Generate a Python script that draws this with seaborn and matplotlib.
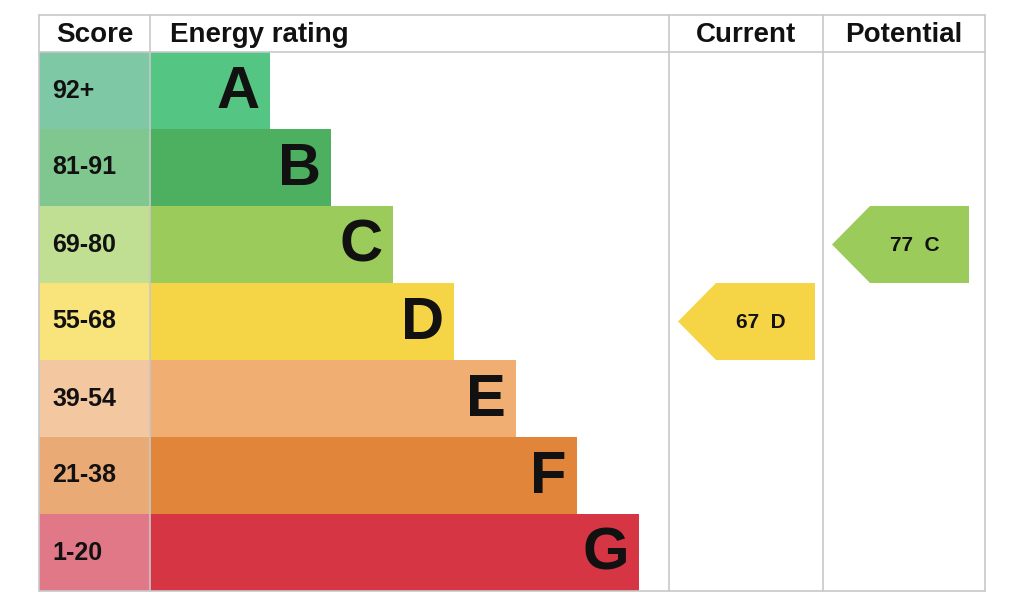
import matplotlib
matplotlib.use("Agg")
import matplotlib.pyplot as plt
import seaborn as sns
from matplotlib.patches import Polygon

sns.set_theme(style="white")
plt.rcParams['font.family'] = ['Liberation Sans', 'DejaVu Sans']

bands = ["A", "B", "C", "D", "E", "F", "G"]
scores = ["92+", "81-91", "69-80", "55-68", "39-54", "21-38", "1-20"]
bar_len = [120, 181, 243, 304, 366, 427, 489]
bar_col = ["#55c583", "#4cb060", "#9bcb5a", "#f5d546", "#f0ae72", "#e0853a", "#d63544"]
score_col = ["#7fc8a6", "#7fc68f", "#c0df92", "#f8e47a", "#f3c7a0", "#eaaa76", "#e07888"]
current = (67, "D")
potential = (77, "C")

fig = plt.figure(figsize=(10.24, 6.03), dpi=100)
ax = fig.add_axes([0, 0, 1, 1])
ax.set_xlim(0, 1024)
ax.set_ylim(603, 0)
ax.axis("off")

top, head, rh = 15, 52, 77
x0, xs, xc, xp, x1 = 39, 150, 669, 823, 985

for i, b in enumerate(bands):
    y = head + i * rh
    ax.barh(y + rh / 2, xs - x0, left=x0, height=rh, color=score_col[i], edgecolor="none")
    ax.barh(y + rh / 2, bar_len[i], left=xs, height=rh, color=bar_col[i], edgecolor="none")
    ax.text(x0 + 13, y + rh / 2, scores[i], fontsize=18, fontweight="bold", va="center", ha="left", color="#111")
    ax.text(xs + bar_len[i] - 10, y + rh / 2 + 2, b, fontsize=43, fontweight="bold", va="center", ha="right", color="#111")

def arrow(val, band, xl, xr):
    i = bands.index(band)
    y = head + i * rh
    poly = Polygon([(xl, y + rh / 2), (xl + 38, y), (xr, y), (xr, y + rh), (xl + 38, y + rh)],
                   closed=True, color=bar_col[i], lw=0)
    ax.add_patch(poly)
    ax.text((xl + xr) / 2 + 14, y + rh / 2 + 1, f"{val}  {band}", fontsize=15, fontweight="bold",
            ha="center", va="center", color="#111")

arrow(*current, 678, 815)
arrow(*potential, 832, 969)

bottom = head + 7 * rh
lc = "#c8c8c8"
for x in [x0, xs, xc, xp, x1]:
    ax.plot([x, x], [top, bottom], color=lc, lw=1.2)
ax.plot([x0, x1], [top, top], color=lc, lw=1.2)
ax.plot([x0, x1], [head, head], color=lc, lw=1.2)
ax.plot([x0, x1], [bottom, bottom], color=lc, lw=1.2)

hy = (top + head) / 2 + 1
ax.text((x0 + xs) / 2, hy, "Score", fontsize=20, fontweight="bold", ha="center", va="center", color="#111")
ax.text(xs + 20, hy, "Energy rating", fontsize=20, fontweight="bold", ha="left", va="center", color="#111")
ax.text((xc + xp) / 2, hy, "Current", fontsize=20, fontweight="bold", ha="center", va="center", color="#111")
ax.text((xp + x1) / 2, hy, "Potential", fontsize=20, fontweight="bold", ha="center", va="center", color="#111")

fig.savefig("out.png", dpi=100)
